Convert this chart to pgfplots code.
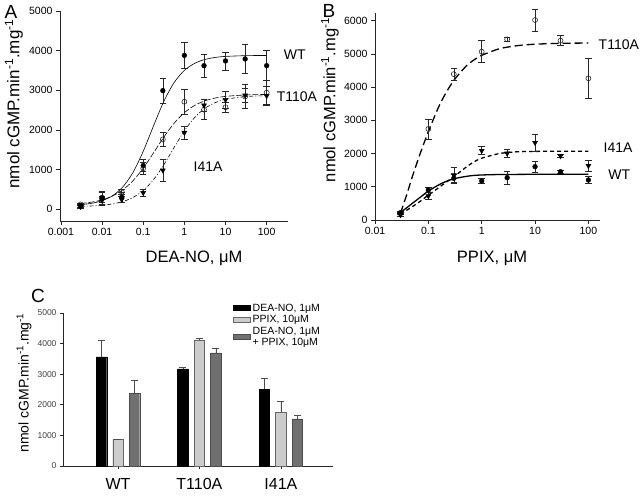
\documentclass[border=0pt]{standalone}
\usepackage{fontspec}
\setmainfont{Liberation Sans}
\usepackage{pgfplots}
\pgfplotsset{compat=1.18}
\definecolor{lightbar}{HTML}{CCCCCC}
\definecolor{darkbar}{HTML}{707070}
\pgfplotsset{
  myax/.style={scale only axis, axis lines=left, axis line style={-, black!85, line width=0.6pt},
    tick align=outside, major tick length=4pt, tick style={black!85, line width=0.6pt},
    ticklabel style={font=\fontsize{10.5}{12}\selectfont},
    /pgf/number format/assume math mode=true, /pgf/number format/1000 sep={},
    scaled y ticks=false, clip=false},
  ebar/.style={error bars/.cd, y dir=both, y explicit,
    error bar style={black!85, line width=0.6pt},
    error mark options={rotate=90, black!85, mark size=3.2pt, line width=0.6pt}},
  cbar/.style={error bars/.cd, y dir=plus, y explicit,
    error bar style={black!70, line width=0.6pt},
    error mark options={rotate=90, black!70, mark size=3.5pt, line width=0.6pt}},
  filledc/.style={only marks, mark=*, mark size=2.4pt, mark options={fill=black, draw=black}},
  openc/.style={only marks, mark=o, mark size=2.5pt, mark options={fill=white, draw=black!85, line width=0.6pt}},
  tri/.style={only marks, mark=triangle*, mark size=2.9pt, mark options={rotate=180, fill=black, draw=black}},
  swatch/.style={legend image code/.code={\fill[##1] (0pt,-2pt) rectangle (17pt,2.5pt);}},
}
\begin{document}
\begin{tikzpicture}
\useasboundingbox (0pt,0pt) rectangle (641pt,496pt);

% ---------- Panel A ----------
\begin{semilogxaxis}[myax, xminorticks=false, at={(60pt,275pt)}, anchor=south west, width=228pt, height=210pt,
  xmin=0.00095, xmax=330, ymin=-300, ymax=5000,
  xtick={0.001,0.01,0.1,1,10,100}, xticklabels={0.001,0.01,0.1,1,10,100},
  ytick={0,1000,2000,3000,4000,5000}]
% fitted curves
\addplot[black, line width=0.6pt, smooth] coordinates {
(0.003,112)(0.005623,147)(0.01,212)(0.01778,334)(0.03162,555)(0.05623,922)(0.1,1459)(0.1778,2100)(0.3162,2716)(0.5623,3192)(1,3500)(1.778,3679)(3.162,3777)(5.623,3828)(10,3854)(31.62,3873)(100,3878)};
\addplot[black, line width=0.6pt, smooth, dash pattern=on 6pt off 2pt] coordinates {
(0.003,142)(0.005623,177)(0.01,233)(0.01778,329)(0.03162,482)(0.05623,715)(0.1,1033)(0.1778,1418)(0.3162,1815)(0.5623,2166)(1,2433)(1.778,2617)(3.162,2733)(5.623,2804)(10,2845)(31.62,2882)(100,2894)};
\addplot[black, line width=0.6pt, smooth, dash pattern=on 4pt off 2pt on 1pt off 2pt] coordinates {
(0.003,70)(0.005623,80)(0.01,97)(0.01778,130)(0.03162,189)(0.05623,293)(0.1,469)(0.1778,742)(0.3162,1118)(0.5623,1555)(1,1976)(1.778,2312)(3.162,2543)(5.623,2687)(10,2770)(31.62,2841)(100,2862)};
% data
\addplot[openc, ebar] coordinates {
(0.003,120) +- (0,30) (0.01,290) +- (0,130) (0.03,440) +- (0,60) (0.1,1030) +- (0,150)
(0.3,1760) +- (0,180) (1,2710) +- (0,320) (3,2510) +- (0,250) (10,2570) +- (0,120)
(30,2840) +- (0,300) (100,2940) +- (0,300)};
\addplot[tri, ebar] coordinates {
(0.003,60) +- (0,30) (0.01,220) +- (0,100) (0.03,240) +- (0,80) (0.1,410) +- (0,80)
(0.3,980) +- (0,280) (1,1930) +- (0,160) (3,2620) +- (0,150) (10,2760) +- (0,220)
(30,2870) +- (0,180) (100,2860) +- (0,250)};
\addplot[filledc, ebar] coordinates {
(0.003,90) +- (0,40) (0.01,280) +- (0,180) (0.03,300) +- (0,120) (0.1,1100) +- (0,150)
(0.3,2990) +- (0,320) (1,3880) +- (0,320) (3,3620) +- (0,290) (10,3740) +- (0,230)
(30,3790) +- (0,370) (100,3620) +- (0,380)};
\node[anchor=west, font=\fontsize{14}{16}\selectfont] at (axis cs:214,3890) {WT};
\node[anchor=west, font=\fontsize{14}{16}\selectfont] at (axis cs:145,2830) {T110A};
\node[anchor=west, font=\fontsize{14}{16}\selectfont] at (axis cs:1.38,1060) {I41A};
\end{semilogxaxis}

% ---------- Panel B ----------
\begin{semilogxaxis}[myax, xminorticks=false, at={(375pt,276pt)}, anchor=south west, width=225pt, height=207pt,
  xmin=0.01, xmax=165, ymin=0, ymax=6230,
  xtick={0.01,0.1,1,10,100}, xticklabels={0.01,0.1,1,10,100},
  ytick={0,1000,2000,3000,4000,5000,6000}]
\addplot[black, line width=1.3pt, smooth, dash pattern=on 8pt off 4pt] coordinates {
(0.03,200)(0.04,797)(0.05,1300)(0.07,1990)(0.1,2658)(0.15,3340)(0.2,3745)(0.3,4200)(0.5,4615)(0.7,4807)(1,4956)(2,5140)(3,5202)(5,5253)(10,5291)(30,5317)(100,5326)};
\addplot[black, line width=1.3pt, smooth, dash pattern=on 4pt off 3pt] coordinates {
(0.03,180)(0.05,400)(0.07,560)(0.1,750)(0.15,950)(0.2,1100)(0.3,1300)(0.5,1580)(0.7,1740)(1,1860)(2,1990)(3,2030)(5,2055)(10,2065)(30,2070)(100,2070)};
\addplot[black, line width=1.3pt, smooth] coordinates {
(0.03,220)(0.05,500)(0.07,680)(0.1,870)(0.15,1040)(0.2,1140)(0.3,1240)(0.5,1310)(0.7,1340)(1,1355)(2,1368)(3,1370)(10,1375)(100,1375)};
\addplot[openc, ebar] coordinates {
(0.03,200) +- (0,40) (0.1,2740) +- (0,300) (0.3,4390) +- (0,180) (1,5065) +- (0,330)
(3,5436) +- (0,50) (10,6018) +- (0,330) (30,5396) +- (0,150) (100,4263) +- (0,590)};
\addplot[tri, ebar] coordinates {
(0.03,150) +- (0,40) (0.1,722) +- (0,100) (0.3,1350) +- (0,250) (1,2086) +- (0,120)
(3,2006) +- (0,130) (10,2327) +- (0,260) (30,1926) +- (0,40) (100,1635) +- (0,160)};
\addplot[filledc, ebar] coordinates {
(0.03,220) +- (0,40) (0.1,903) +- (0,80) (0.3,1254) +- (0,120) (1,1174) +- (0,80)
(3,1274) +- (0,200) (10,1605) +- (0,170) (30,1454) +- (0,50) (100,1204) +- (0,100)};
\node[anchor=west, font=\fontsize{14}{16}\selectfont] at (axis cs:134,5270) {T110A};
\node[anchor=west, font=\fontsize{14}{16}\selectfont] at (axis cs:166,2170) {I41A};
\node[anchor=west, font=\fontsize{14}{16}\selectfont] at (axis cs:204,1355) {WT};
\end{semilogxaxis}

% ---------- Panel C ----------
\begin{axis}[myax, at={(63pt,30pt)}, anchor=south west, width=270pt, height=153pt,
  xmin=-0.675, xmax=2.64, ymin=0, ymax=5000,
  ybar=6pt, bar width=10.5pt,
  xtick={0,1,2}, xticklabels={WT,T110A,I41A}, major tick length=3pt,
  xticklabel style={font=\fontsize{16}{18}\selectfont, yshift=-6pt},
  ytick={0,1000,2000,3000,4000,5000},
  yticklabel style={font=\fontsize{8.5}{10}\selectfont, text=black!75},
  legend style={at={(axis description cs:0.63,1.075)}, anchor=north west, draw=none, fill=none,
    font=\fontsize{10.5}{10.5}\selectfont, row sep=-1pt, cells={align=left}, inner sep=0pt},
  legend cell align=left]
\addplot[fill=black, draw=black, line width=0.4pt, swatch, cbar]
  coordinates {(0,3570) +- (0,540) (1,3170) +- (0,45) (2,2516) +- (0,340)};
\addplot[fill=lightbar, draw=black!60, line width=0.4pt, swatch, cbar]
  coordinates {(0,870) +- (0,0) (1,4118) +- (0,55) (2,1755) +- (0,360)};
\addplot[fill=darkbar, draw=black!70, line width=0.4pt, swatch, cbar]
  coordinates {(0,2376) +- (0,434) (1,3693) +- (0,153) (2,1536) +- (0,108)};
\legend{{DEA-NO, 1μM}, {PPIX, 10μM}, {DEA-NO, 1μM\\+ PPIX, 10μM}}
\end{axis}

% ---------- labels ----------
\node[font=\fontsize{16.5}{18}\selectfont] at (194pt,238pt) {DEA-NO, μM};
\node[font=\fontsize{16.5}{18}\selectfont] at (492pt,238pt) {PPIX, μM};
\node[rotate=90, font=\fontsize{17}{18}\selectfont] at (14pt,392pt) {nmol cGMP.min\textsuperscript{-1}.mg\textsuperscript{-1}};
\node[rotate=90, font=\fontsize{16.5}{18}\selectfont] at (330pt,396pt) {nmol cGMP.min\textsuperscript{-1}.mg\textsuperscript{-1}};
\node[rotate=90, font=\fontsize{14}{16}\selectfont] at (24pt,113pt) {nmol cGMP.min\textsuperscript{-1}.mg\textsuperscript{-1}};
\node[font=\fontsize{19}{20}\selectfont] at (11pt,484pt) {A};
\node[font=\fontsize{19}{20}\selectfont] at (329pt,485pt) {B};
\node[font=\fontsize{19}{20}\selectfont] at (38pt,200pt) {C};
\end{tikzpicture}
\end{document}
